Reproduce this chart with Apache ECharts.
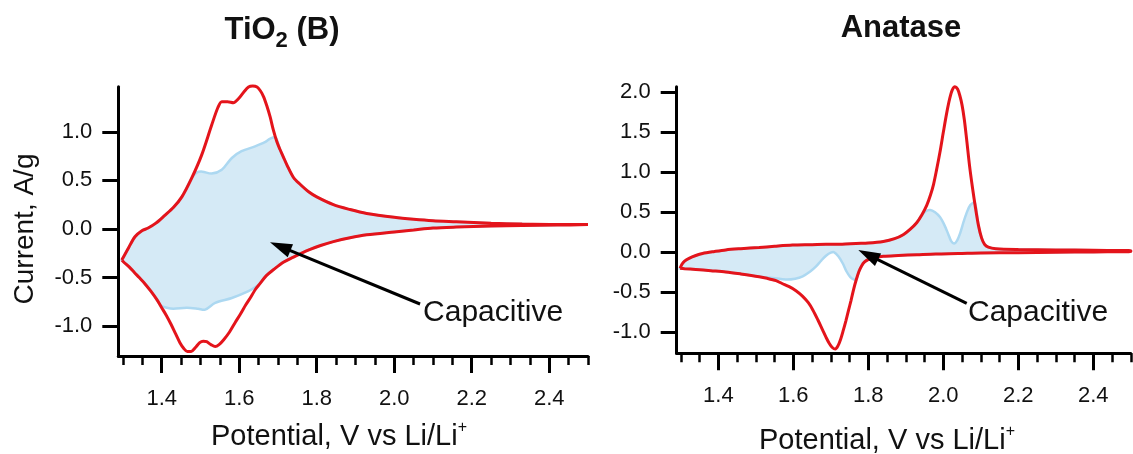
<!DOCTYPE html>
<html>
<head>
<meta charset="utf-8">
<script src="https://cdn.jsdelivr.net/npm/echarts@6/dist/echarts.min.js"></script>
<style>
  html, body { margin: 0; padding: 0; background: #ffffff; }
  #chart { width: 1133px; height: 454px; }
</style>
</head>
<body>
<div id="chart"></div>
<script>
// ---- TiO2 (B): cyclic voltammogram, potential (V vs Li/Li+) vs current (A/g) ----
// anodic sweep, low -> high potential
const tioAnodic = [
  [1.297,-0.32],[1.315,-0.19],[1.331,-0.08],[1.348,-0.02],[1.365,0.01],[1.385,0.06],[1.408,0.14],
  [1.43,0.22],[1.452,0.33],[1.477,0.52],[1.503,0.76],[1.529,1.07],[1.545,1.25],[1.555,1.31],
  [1.57,1.31],[1.585,1.30],[1.598,1.34],[1.612,1.41],[1.624,1.46],[1.635,1.47],[1.646,1.46],
  [1.655,1.42],[1.663,1.36],[1.671,1.27],[1.68,1.15],[1.688,1.02],[1.697,0.90],[1.705,0.82],
  [1.714,0.74],[1.723,0.66],[1.74,0.53],[1.757,0.46],[1.78,0.38],[1.8,0.33],[1.843,0.25],
  [1.886,0.20],[1.929,0.16],[2.0,0.12],[2.05,0.10],[2.1,0.085],[2.16,0.075],[2.25,0.06],
  [2.33,0.05],[2.42,0.045],[2.5,0.045]
];
// cathodic sweep, high -> low potential
const tioCathodic = [
  [2.5,0.045],[2.42,0.04],[2.33,0.035],[2.25,0.03],[2.16,0.02],[2.1,0.01],[2.05,-0.01],[2.0,-0.03],
  [1.929,-0.06],[1.886,-0.09],[1.843,-0.13],[1.81,-0.17],[1.783,-0.21],[1.76,-0.25],[1.74,-0.29],
  [1.715,-0.34],[1.688,-0.42],[1.67,-0.48],[1.654,-0.56],[1.642,-0.62],[1.63,-0.70],[1.617,-0.78],
  [1.604,-0.87],[1.59,-0.96],[1.575,-1.06],[1.56,-1.14],[1.548,-1.19],[1.538,-1.21],[1.527,-1.19],
  [1.516,-1.16],[1.507,-1.155],[1.498,-1.17],[1.487,-1.22],[1.476,-1.26],[1.466,-1.26],[1.457,-1.23],
  [1.447,-1.17],[1.436,-1.08],[1.424,-0.98],[1.412,-0.89],[1.4,-0.81],[1.388,-0.73],[1.372,-0.64],
  [1.356,-0.56],[1.342,-0.50],[1.33,-0.45],[1.316,-0.39],[1.303,-0.345],[1.297,-0.32]
];
// capacitive contribution envelope (upper and lower edges, low -> high potential)
const tioCapUpper = [
  [1.297,-0.32],[1.315,-0.19],[1.331,-0.08],[1.348,-0.02],[1.365,0.01],[1.385,0.06],[1.408,0.14],
  [1.43,0.22],[1.452,0.33],[1.477,0.52],[1.49,0.58],[1.505,0.59],[1.529,0.57],[1.555,0.61],
  [1.581,0.73],[1.606,0.80],[1.641,0.85],[1.665,0.89],[1.68,0.93],[1.694,0.94],[1.705,0.82],
  [1.714,0.74],[1.723,0.66],[1.74,0.53],[1.757,0.46],[1.78,0.38],[1.8,0.33],[1.843,0.25],
  [1.886,0.20],[1.929,0.16],[2.0,0.12],[2.05,0.10],[2.1,0.085],[2.16,0.075],[2.25,0.06],
  [2.33,0.05],[2.42,0.045],[2.5,0.045]
];
const tioCapLower = [
  [1.297,-0.32],[1.303,-0.345],[1.316,-0.39],[1.33,-0.45],[1.342,-0.50],[1.356,-0.56],[1.372,-0.64],
  [1.388,-0.73],[1.398,-0.79],[1.413,-0.81],[1.43,-0.82],[1.465,-0.81],[1.494,-0.82],[1.512,-0.83],
  [1.538,-0.76],[1.581,-0.71],[1.624,-0.64],[1.645,-0.59],[1.654,-0.56],[1.67,-0.48],[1.688,-0.42],
  [1.715,-0.34],[1.74,-0.29],[1.76,-0.25],[1.783,-0.21],[1.81,-0.17],[1.843,-0.13],[1.886,-0.09],
  [1.929,-0.06],[2.0,-0.03],[2.05,-0.01],[2.1,0.01],[2.16,0.02],[2.25,0.03],[2.33,0.035],
  [2.42,0.04],[2.5,0.045]
];

// ---- Anatase ----
const anaAnodic = [
  [1.298,-0.20],[1.303,-0.15],[1.31,-0.11],[1.322,-0.075],[1.34,-0.04],[1.358,-0.015],[1.39,0.01],
  [1.42,0.03],[1.46,0.045],[1.509,0.06],[1.55,0.075],[1.598,0.09],[1.65,0.095],[1.687,0.10],
  [1.73,0.10],[1.767,0.11],[1.8,0.115],[1.84,0.135],[1.87,0.17],[1.893,0.22],[1.912,0.29],
  [1.929,0.37],[1.943,0.47],[1.956,0.59],[1.966,0.72],[1.974,0.85],[1.982,1.03],[1.991,1.25],
  [2.0,1.50],[2.009,1.74],[2.017,1.92],[2.024,2.03],[2.031,2.07],[2.038,2.04],[2.044,1.96],
  [2.05,1.84],[2.056,1.66],[2.062,1.42],[2.07,1.08],[2.078,0.80],[2.086,0.55],[2.094,0.33],
  [2.102,0.18],[2.11,0.10],[2.12,0.065],[2.14,0.045],[2.2,0.035],[2.3,0.03],[2.4,0.025],[2.5,0.02]
];
const anaCathodic = [
  [2.5,0.01],[2.4,0.005],[2.3,0.0],[2.2,-0.005],[2.1,-0.008],[2.04,-0.015],[1.98,-0.02],[1.93,-0.03],
  [1.88,-0.04],[1.84,-0.05],[1.815,-0.07],[1.8,-0.09],[1.79,-0.12],[1.782,-0.17],[1.775,-0.24],
  [1.768,-0.34],[1.761,-0.46],[1.754,-0.60],[1.747,-0.73],[1.74,-0.86],[1.733,-0.98],[1.726,-1.09],
  [1.719,-1.17],[1.712,-1.21],[1.704,-1.19],[1.696,-1.14],[1.687,-1.06],[1.678,-0.97],[1.665,-0.84],
  [1.652,-0.72],[1.64,-0.63],[1.625,-0.55],[1.607,-0.48],[1.589,-0.43],[1.57,-0.39],[1.554,-0.355],
  [1.53,-0.325],[1.509,-0.305],[1.46,-0.27],[1.42,-0.245],[1.38,-0.23],[1.34,-0.215],[1.31,-0.205],
  [1.298,-0.20]
];
const anaCapUpper = [
  [1.298,-0.20],[1.303,-0.15],[1.31,-0.11],[1.322,-0.075],[1.34,-0.04],[1.358,-0.015],[1.39,0.01],
  [1.42,0.03],[1.46,0.045],[1.509,0.06],[1.55,0.075],[1.598,0.09],[1.65,0.095],[1.687,0.10],
  [1.73,0.10],[1.767,0.11],[1.8,0.115],[1.84,0.135],[1.87,0.17],[1.893,0.22],[1.912,0.29],
  [1.929,0.37],[1.94,0.45],[1.952,0.51],[1.965,0.53],[1.978,0.50],[1.991,0.44],[2.003,0.34],
  [2.013,0.23],[2.021,0.14],[2.029,0.11],[2.037,0.15],[2.045,0.24],[2.054,0.38],[2.062,0.49],
  [2.072,0.59],[2.084,0.62],[2.094,0.33],[2.102,0.18],[2.11,0.10],[2.12,0.065],[2.14,0.045],
  [2.2,0.035],[2.3,0.03],[2.4,0.025],[2.5,0.02]
];
const anaCapLower = [
  [1.298,-0.20],[1.31,-0.205],[1.34,-0.215],[1.38,-0.23],[1.42,-0.245],[1.46,-0.27],[1.509,-0.305],
  [1.545,-0.32],[1.58,-0.34],[1.605,-0.33],[1.625,-0.30],[1.645,-0.24],[1.66,-0.18],[1.675,-0.10],
  [1.688,-0.04],[1.7,-0.005],[1.709,0.0],[1.72,-0.05],[1.732,-0.14],[1.742,-0.24],[1.752,-0.31],
  [1.762,-0.34],[1.768,-0.34],[1.775,-0.24],[1.782,-0.17],[1.79,-0.12],[1.8,-0.09],[1.815,-0.07],
  [1.84,-0.05],[1.88,-0.04],[1.93,-0.03],[1.98,-0.02],[2.04,-0.015],[2.1,-0.008],[2.2,-0.005],
  [2.3,0.0],[2.4,0.005],[2.5,0.01]
];

// ---- axes ----
const xMajorTicks = [1.4, 1.6, 1.8, 2.0, 2.2, 2.4];
const xMinorTicks = [1.30,1.35,1.40,1.45,1.50,1.55,1.60,1.65,1.70,1.75,1.80,1.85,1.90,1.95,
                     2.00,2.05,2.10,2.15,2.20,2.25,2.30,2.35,2.40,2.45,2.50];
const tioYTicks = [-1.0, -0.5, 0.0, 0.5, 1.0];
const anaYTicks = [-1.0, -0.5, 0.0, 0.5, 1.0, 1.5, 2.0];
const tioRange = { xMin: 1.288, xMax: 2.5, yMin: -1.307, yMax: 1.464 };
const anaRange = { xMin: 1.289, xMax: 2.5, yMin: -1.2625, yMax: 2.07 };

// ---- annotations: arrow tail, arrow tip, label anchor (data units) ----
const tioArrow = [[2.0666, -0.772], [1.6795, -0.137]];
const tioLabelAt = [2.0744, -0.864];
const anaArrow = [[2.0624, -0.6375], [1.7733, 0.029]];
const anaLabelAt = [2.0659, -0.759];
const annotationText = 'Capacitive';

const panelTitles = ['TiO{s|2} (B)', 'Anatase'];
const xName = 'Potential, V vs Li/Li{p|+}';
const yName = 'Current, A/g';

const FONT = '"Liberation Sans", Arial, sans-serif';
const RED = '#e4141b';
const INK = '#111111';

function xAxes(gridIndex, r) {
  return [{
    type: 'value', gridIndex, min: r.xMin, max: r.xMax, position: 'bottom',
    axisLine: { show: true, onZero: false, lineStyle: { color: '#000', width: 3 } },
    axisTick: { show: true, inside: false, length: 17, customValues: xMajorTicks,
                lineStyle: { color: '#000', width: 3 } },
    axisLabel: { show: true, margin: 32, customValues: xMajorTicks, color: INK,
                 fontSize: 22, fontFamily: FONT, formatter: v => v.toFixed(1) },
    splitLine: { show: false }
  }, {
    type: 'value', gridIndex, min: r.xMin, max: r.xMax, position: 'bottom', offset: 0,
    axisLine: { show: false, onZero: false },
    axisTick: { show: true, inside: false, length: 9, customValues: xMinorTicks,
                lineStyle: { color: '#000', width: 2.5 } },
    axisLabel: { show: false },
    splitLine: { show: false }
  }];
}

function yAxis(gridIndex, r, ticks) {
  return {
    type: 'value', gridIndex, min: r.yMin, max: r.yMax, position: 'left',
    axisLine: { show: true, onZero: false, lineStyle: { color: '#000', width: 3 } },
    axisTick: { show: true, inside: false, length: 16, customValues: ticks,
                lineStyle: { color: '#000', width: 3 } },
    axisLabel: { show: true, margin: 26, customValues: ticks, color: INK,
                 fontSize: 22, fontFamily: FONT, formatter: v => v.toFixed(1) },
    splitLine: { show: false }
  };
}

function capacitiveArea(upper, lower) {
  return function (params, api) {
    const pts = upper.concat(lower.slice().reverse()).map(p => api.coord(p));
    return {
      type: 'polygon', silent: true,
      shape: { points: pts, smooth: 0.3 },
      style: { fill: '#d5eaf6', stroke: '#acd8f1', lineWidth: 2.5 }
    };
  };
}

function arrowLabel(arrow, labelAt) {
  return function (params, api) {
    const a = api.coord(arrow[0]);
    const b = api.coord(arrow[1]);
    const t = api.coord(labelAt);
    const ang = Math.atan2(b[1] - a[1], b[0] - a[0]);
    const L = 22, W = 7;
    const bx = b[0] - L * Math.cos(ang), by = b[1] - L * Math.sin(ang);
    const px = -Math.sin(ang) * W, py = Math.cos(ang) * W;
    return {
      type: 'group', silent: true,
      children: [
        { type: 'line', shape: { x1: a[0], y1: a[1], x2: bx + 2 * Math.cos(ang), y2: by + 2 * Math.sin(ang) },
          style: { stroke: '#000', lineWidth: 3 } },
        { type: 'polygon', shape: { points: [b, [bx + px, by + py], [bx - px, by - py]] },
          style: { fill: '#000' } },
        { type: 'text', x: t[0], y: t[1],
          style: { text: annotationText, fontSize: 30, fontFamily: FONT, fill: INK,
                   align: 'left', verticalAlign: 'middle' } }
      ]
    };
  };
}

const chart = echarts.init(document.getElementById('chart'), null, { renderer: 'canvas' });

chart.setOption({
  animation: false,
  backgroundColor: '#ffffff',
  grid: [
    { left: 118.3, top: 86.7, width: 469.7, height: 269.3, containLabel: false, outerBoundsMode: 'none' },
    { left: 676.7, top: 86.7, width: 454.1, height: 266.6, containLabel: false, outerBoundsMode: 'none' }
  ],
  xAxis: [...xAxes(0, tioRange), ...xAxes(1, anaRange)],
  yAxis: [yAxis(0, tioRange, tioYTicks), yAxis(1, anaRange, anaYTicks)],
  series: [
    { type: 'custom', xAxisIndex: 0, yAxisIndex: 0, clip: false, z: 1,
      data: [[1.5, 0]], renderItem: capacitiveArea(tioCapUpper, tioCapLower) },
    { type: 'line', xAxisIndex: 0, yAxisIndex: 0, clip: false, z: 2,
      data: tioAnodic.concat(tioCathodic), showSymbol: false, smooth: 0.3,
      lineStyle: { color: RED, width: 3 } },
    { type: 'custom', xAxisIndex: 0, yAxisIndex: 0, clip: false, z: 3,
      data: [[1.5, 0]], renderItem: arrowLabel(tioArrow, tioLabelAt) },

    { type: 'custom', xAxisIndex: 2, yAxisIndex: 1, clip: false, z: 1,
      data: [[1.5, 0]], renderItem: capacitiveArea(anaCapUpper, anaCapLower) },
    { type: 'line', xAxisIndex: 2, yAxisIndex: 1, clip: false, z: 2,
      data: anaAnodic.concat(anaCathodic), showSymbol: false, smooth: 0.3,
      lineStyle: { color: RED, width: 3 } },
    { type: 'custom', xAxisIndex: 2, yAxisIndex: 1, clip: false, z: 3,
      data: [[1.5, 0]], renderItem: arrowLabel(anaArrow, anaLabelAt) }
  ],
  graphic: [
    { type: 'text', x: 282, y: 30, silent: true,
      style: { text: panelTitles[0], fontSize: 31, fontWeight: 'bold', fontFamily: FONT, fill: INK,
               align: 'center', verticalAlign: 'middle',
               rich: { s: { fontSize: 22, fontWeight: 'bold', fontFamily: FONT, fill: INK,
                            padding: [21, 0, 0, 0], verticalAlign: 'top' } } } },
    { type: 'text', x: 901, y: 28, silent: true,
      style: { text: panelTitles[1], fontSize: 31, fontWeight: 'bold', fontFamily: FONT, fill: INK,
               align: 'center', verticalAlign: 'middle' } },
    { type: 'text', x: 25, y: 229, rotation: Math.PI / 2, silent: true,
      style: { text: yName, fontSize: 28, fontFamily: FONT, fill: INK,
               align: 'center', verticalAlign: 'middle' } },
    { type: 'text', x: 339, y: 437, silent: true,
      style: { text: xName, fontSize: 29, fontFamily: FONT, fill: INK, lineHeight: 34,
               align: 'center', verticalAlign: 'middle',
               rich: { p: { fontSize: 16, fontFamily: FONT, fill: INK, lineHeight: 10, verticalAlign: 'top' } } } },
    { type: 'text', x: 887, y: 441, silent: true,
      style: { text: xName, fontSize: 29, fontFamily: FONT, fill: INK, lineHeight: 34,
               align: 'center', verticalAlign: 'middle',
               rich: { p: { fontSize: 16, fontFamily: FONT, fill: INK, lineHeight: 10, verticalAlign: 'top' } } } }
  ]
});
</script>
</body>
</html>
